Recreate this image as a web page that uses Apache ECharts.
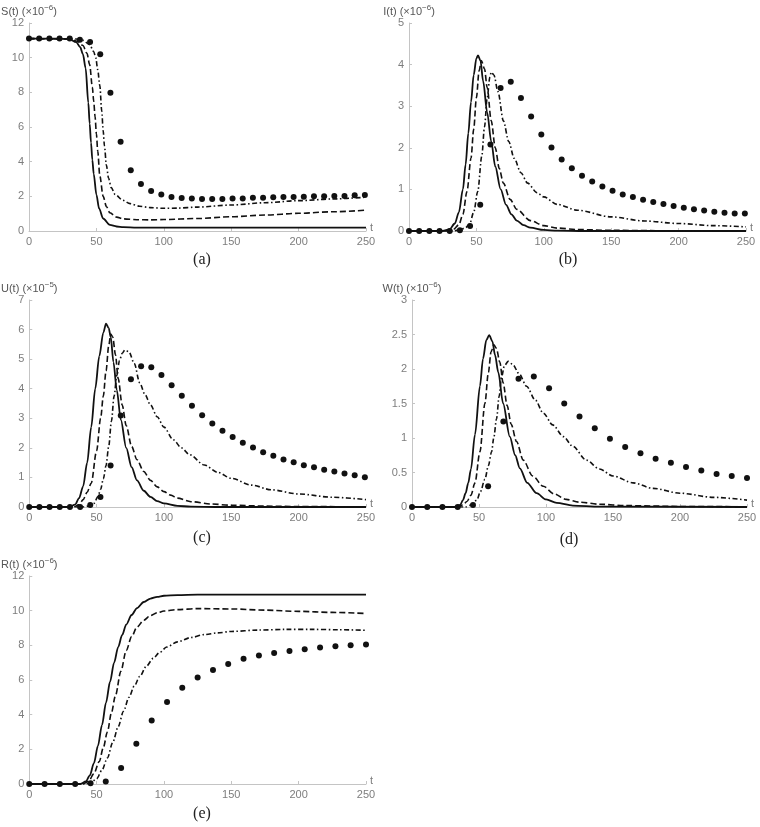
<!DOCTYPE html>
<html>
<head>
<meta charset="utf-8">
<script src="https://cdn.jsdelivr.net/npm/echarts@6/dist/echarts.min.js"></script>
<style>
html,body{margin:0;padding:0;background:#fff;}
#chart{width:760px;height:827px;}
</style>
</head>
<body>
<div id="chart"></div>
<script>
// ---------- Data ----------
var tDots1 = [0, 7.55, 15.1, 22.65, 30.2, 37.75, 45.3, 52.85, 60.4, 67.95, 75.5, 83.05, 90.6, 98.15, 105.7, 113.25, 120.8, 128.35, 135.9, 143.45, 151, 158.55, 166.1, 173.65, 181.2, 188.75, 196.3, 203.85, 211.4, 218.95, 226.5, 234.05, 241.6, 249.15];
var tDots2 = [0, 11.4, 22.7, 34.1, 45.5, 56.8, 68.2, 79.5, 90.9, 102.3, 113.6, 125, 136.4, 147.7, 159.1, 170.5, 181.8, 193.2, 204.5, 215.9, 227.3, 238.6, 250];
var xTicks = [0, 50, 100, 150, 200, 250];

// (a) S(t)
var S_solid = [[0,11.1],[20,11.1],[30,11.06],[35,10.9],[38,10.6],[40,10.2],[42,9.4],[44,7.4],[45,6.2],[46,5.1],[47,4.1],[48,3.3],[50,2.1],[52,1.3],[55,0.72],[60,0.35],[65,0.26],[70,0.22],[80,0.2],[100,0.19],[150,0.19],[250,0.19]];
var S_dash = [[0,11.1],[30,11.08],[36,10.95],[40,10.7],[43,10.25],[45,9.6],[47,8.3],[48,7.5],[49,6.6],[50,5.6],[51,4.6],[52.5,3.2],[55,2.0],[57.5,1.4],[60,1.05],[65,0.8],[70,0.7],[80,0.65],[90,0.64],[100,0.66],[125,0.72],[150,0.82],[175,0.92],[200,1.02],[225,1.11],[250,1.2]];
var S_dashdot = [[0,11.1],[35,11.08],[40,11.0],[45,10.75],[48,10.35],[49.5,10.0],[51,9.3],[52.5,8.4],[54,6.9],[55,5.8],[56,4.9],[57.4,3.8],[59,3.05],[61,2.5],[64,2.1],[69.6,1.77],[75,1.58],[82,1.43],[90,1.35],[100,1.31],[110,1.32],[125,1.38],[150,1.5],[175,1.63],[200,1.75],[225,1.85],[250,1.95]];
var S_dots = [11.1,11.1,11.1,11.1,11.1,11.04,10.9,10.2,7.98,5.15,3.5,2.71,2.31,2.1,1.96,1.9,1.88,1.85,1.85,1.85,1.87,1.88,1.92,1.92,1.94,1.96,1.96,1.98,2.0,2.0,2.02,2.02,2.06,2.08];

// (b) I(t)
var I_solid = [[0,0],[25,0],[30,0.04],[34,0.18],[37,0.45],[40,1.0],[42,1.6],[44,2.35],[46,3.1],[48,3.75],[50,4.15],[51.2,4.22],[53,4.1],[55,3.6],[58,2.85],[61,2.15],[64,1.55],[68,1.0],[72,0.63],[76,0.4],[80,0.25],[85,0.14],[90,0.08],[100,0.025],[110,0.008],[130,0],[250,0]];
var I_dash = [[0,0],[28,0],[33,0.04],[37,0.15],[40,0.4],[43,0.95],[46,1.75],[48,2.45],[50,3.2],[52,3.85],[53.7,4.1],[56,3.9],[58,3.45],[61,2.65],[64,2.0],[67,1.5],[70,1.15],[75,0.76],[80,0.52],[90,0.25],[100,0.13],[110,0.07],[125,0.035],[150,0.015],[200,0.005],[250,0.002]];
var I_dashdot = [[0,0],[33,0],[38,0.03],[42,0.08],[45,0.17],[48,0.45],[51,0.95],[54,1.8],[56,2.5],[58,3.2],[60,3.7],[61,3.82],[63,3.75],[66,3.35],[70,2.65],[74,2.15],[78,1.75],[83,1.4],[88,1.15],[95,0.92],[100,0.82],[110,0.64],[125,0.5],[150,0.34],[175,0.24],[200,0.18],[225,0.13],[250,0.1]];
var I_dots = [0,0,0,0,0,0.02,0.12,0.63,2.08,3.44,3.59,3.2,2.75,2.32,2.01,1.72,1.51,1.33,1.19,1.07,0.97,0.88,0.82,0.75,0.7,0.65,0.6,0.56,0.52,0.49,0.46,0.44,0.42,0.42];

// (c) U(t)
var U_solid = [[0,0],[30,0],[34,0.08],[37,0.3],[40,0.7],[43,1.5],[46,2.7],[49,4.0],[52,5.1],[55,5.9],[57,6.2],[59,6.05],[60.5,5.75],[62.5,4.9],[65,3.95],[68,2.95],[72,2.0],[76,1.35],[80,0.9],[85,0.55],[90,0.34],[95,0.2],[100,0.12],[110,0.04],[120,0.01],[140,0],[250,0]];
var U_dash = [[0,0],[33,0],[37,0.08],[40,0.25],[43,0.5],[46,0.8],[50,1.9],[53,3.0],[55,3.75],[57,4.6],[59,5.45],[60.5,5.85],[62,5.75],[64,5.15],[66,4.35],[69,3.45],[72,2.75],[76,2.05],[80,1.6],[85,1.2],[90,0.9],[95,0.68],[100,0.52],[105,0.4],[110,0.3],[120,0.18],[135,0.1],[150,0.06],[175,0.03],[200,0.015],[250,0.005]];
var U_dashdot = [[0,0],[40,0],[44,0.03],[48,0.12],[51,0.35],[53,0.6],[55,0.95],[57,1.4],[59,2.05],[61,2.9],[63,3.75],[65,4.45],[67,4.95],[69,5.2],[71,5.31],[74,5.25],[78,4.85],[82,4.2],[86,3.8],[90,3.45],[95,3.05],[100,2.7],[107,2.27],[113,2.0],[119,1.77],[130,1.42],[140,1.17],[150,0.97],[165,0.74],[180,0.58],[200,0.44],[225,0.33],[250,0.25]];
var U_dots = [0,0,0,0,0,0,0.07,0.34,1.4,3.09,4.32,4.76,4.73,4.46,4.12,3.76,3.42,3.1,2.82,2.58,2.37,2.17,2.01,1.85,1.73,1.61,1.51,1.41,1.34,1.26,1.2,1.13,1.07,1.01];

// (d) W(t)
var W_solid = [[0,0],[32,0],[36,0.03],[38,0.1],[40,0.2],[42,0.35],[44,0.55],[47,1.05],[50.7,1.75],[53,2.15],[55.5,2.42],[57.6,2.49],[60,2.4],[62,2.2],[64.4,1.95],[68,1.5],[73,1.02],[77,0.75],[80.5,0.56],[86,0.35],[93,0.2],[100,0.11],[108,0.06],[120,0.02],[140,0.005],[250,0]];
var W_dash = [[0,0],[34,0],[38,0.03],[41,0.08],[44,0.17],[47,0.35],[50.7,0.8],[54.4,1.5],[57,1.95],[59,2.25],[61.1,2.35],[63,2.3],[65.5,2.1],[68,1.8],[71,1.47],[74,1.2],[78,0.95],[83,0.68],[90,0.45],[98,0.3],[106,0.19],[115,0.11],[125,0.07],[140,0.04],[160,0.02],[200,0.008],[250,0.003]];
var W_dashdot = [[0,0],[40,0],[44,0.03],[48.4,0.1],[51,0.22],[54.4,0.4],[57,0.6],[59.4,0.8],[61,1.0],[63.1,1.28],[65,1.6],[66.8,1.88],[69,2.05],[71.8,2.11],[75,2.07],[80,1.93],[85.5,1.75],[92,1.55],[98,1.36],[105,1.19],[113,1.02],[120,0.88],[130,0.68],[140,0.55],[150,0.45],[165,0.35],[180,0.27],[200,0.2],[225,0.14],[250,0.1]];
var W_dots = [0,0,0,0,0.03,0.3,1.24,1.86,1.89,1.72,1.5,1.31,1.14,0.99,0.87,0.78,0.7,0.64,0.58,0.53,0.48,0.45,0.42];

// (e) R(t)
var R_solid = [[0,0],[38,0],[42,0.15],[45,0.5],[48,1.2],[51,2.2],[54,3.4],[57,4.7],[60,5.9],[63,7.0],[66,7.9],[69,8.6],[72,9.2],[76,9.75],[80,10.15],[85,10.5],[90,10.7],[95,10.8],[100,10.86],[110,10.9],[125,10.92],[250,10.92]];
var R_dash = [[0,0],[40,0],[44,0.15],[48,0.6],[52,1.3],[55,2.1],[58,3.0],[61,4.1],[64,5.1],[68,6.5],[72,7.7],[76,8.5],[80,9.05],[85,9.45],[90,9.72],[95,9.88],[100,9.98],[110,10.06],[125,10.12],[150,10.1],[175,10.03],[200,9.96],[225,9.9],[250,9.84]];
var R_dashdot = [[0,0],[42,0],[46,0.1],[50,0.3],[54,0.8],[58,1.5],[62,2.4],[66,3.3],[70,4.2],[74,5.0],[78,5.65],[82,6.2],[87,6.8],[92,7.25],[97,7.6],[102,7.9],[110,8.2],[120,8.45],[130,8.62],[140,8.72],[150,8.8],[170,8.88],[190,8.92],[210,8.92],[230,8.9],[250,8.87]];
var R_dots = [0,0,0,0,0.04,0.15,0.93,2.32,3.67,4.73,5.56,6.15,6.58,6.93,7.22,7.41,7.56,7.68,7.78,7.87,7.95,8.0,8.05];

// ---------- Panels ----------
var panels = [
  {name:'S(t) (×10', exp:'−6', ymax:12, yint:2, solid:S_solid, dash:S_dash, dashdot:S_dashdot, tDots:tDots1, dots:S_dots, cap:'(a)'},
  {name:'I(t) (×10', exp:'−6', ymax:5, yint:1, solid:I_solid, dash:I_dash, dashdot:I_dashdot, tDots:tDots1, dots:I_dots, cap:'(b)'},
  {name:'U(t) (×10', exp:'−5', ymax:7, yint:1, solid:U_solid, dash:U_dash, dashdot:U_dashdot, tDots:tDots1, dots:U_dots, cap:'(c)'},
  {name:'W(t) (×10', exp:'−6', ymax:3, yint:0.5, solid:W_solid, dash:W_dash, dashdot:W_dashdot, tDots:tDots2, dots:W_dots, cap:'(d)'},
  {name:'R(t) (×10', exp:'−6', ymax:12, yint:2, solid:R_solid, dash:R_dash, dashdot:R_dashdot, tDots:tDots2, dots:R_dots, cap:'(e)'}
];
var layout = [
  {left:29, top:23, width:337, height:208, capX:197, capY:257},
  {left:409, top:23, width:337, height:208, capX:563, capY:257},
  {left:29, top:300, width:337, height:207, capX:197, capY:535},
  {left:412, top:300, width:335, height:207, capX:564, capY:537},
  {left:29, top:576, width:337, height:208, capX:197, capY:811}
];

var axisGray = '#c4c4c4';
var labelGray = '#7d7d7d';
var sansFont = 'Liberation Sans, Arial, sans-serif';

var grids = [], xAxes = [], yAxes = [], series = [], titles = [];
panels.forEach(function(p, i){
  var L = layout[i];
  grids.push({left:L.left, top:L.top, width:L.width, height:L.height, containLabel:false});
  xAxes.push({
    type:'value', gridIndex:i, min:0, max:250, interval:50,
    name:'t', nameLocation:'end', nameGap:4,
    nameTextStyle:{color:labelGray, fontSize:11, fontFamily:sansFont, verticalAlign:'bottom', padding:[0,0,-2,0]},
    axisLine:{show:true, lineStyle:{color:axisGray, width:1}},
    axisTick:{show:true, inside:true, length:3, lineStyle:{color:axisGray}},
    axisLabel:{color:labelGray, fontSize:11, fontFamily:sansFont, margin:5, showMinLabel:true, showMaxLabel:true},
    splitLine:{show:false}
  });
  yAxes.push({
    type:'value', gridIndex:i, min:0, max:p.ymax, interval:p.yint,
    name:'{b|' + p.name + '}{s|' + p.exp + '}{b|)}', nameLocation:'end', nameGap:4,
    nameTextStyle:{
      color:labelGray, fontFamily:sansFont, align:'center',
      rich:{
        b:{fontSize:11, color:'#555', fontFamily:sansFont},
        s:{fontSize:8, color:'#555', fontFamily:sansFont, padding:[0,0,7,0]}
      }
    },
    axisLine:{show:true, lineStyle:{color:axisGray, width:1}},
    axisTick:{show:true, inside:true, length:3, lineStyle:{color:axisGray}},
    axisLabel:{color:labelGray, fontSize:11, fontFamily:sansFont, margin:5},
    splitLine:{show:false}
  });
  var common = {type:'line', xAxisIndex:i, yAxisIndex:i, showSymbol:false, smooth:0.3, smoothMonotone:'x', animation:false, silent:true};
  series.push(Object.assign({}, common, {name:'solid'+i, data:p.solid, lineStyle:{color:'#111', width:1.8, type:'solid'}, z:3}));
  series.push(Object.assign({}, common, {name:'dash'+i, data:p.dash, lineStyle:{color:'#111', width:1.6, type:[6,3]}, z:3}));
  series.push(Object.assign({}, common, {name:'dashdot'+i, data:p.dashdot, lineStyle:{color:'#111', width:1.6, type:[5,2.5,1.5,2.5]}, z:3}));
  series.push({
    type:'scatter', name:'dots'+i, xAxisIndex:i, yAxisIndex:i, symbol:'circle', symbolSize:6,
    itemStyle:{color:'#111', opacity:1}, animation:false, silent:true, z:4,
    data:p.tDots.map(function(t, k){ return [t, p.dots[k]]; })
  });
  titles.push({text:p.cap, left:L.capX, top:L.capY - 10, textAlign:'center',
    textStyle:{fontFamily:'Liberation Serif, DejaVu Serif, serif', fontSize:16, fontWeight:'normal', color:'#222'}});
});

var chart = echarts.init(document.getElementById('chart'), null, {renderer:'canvas'});
chart.setOption({
  backgroundColor:'#ffffff',
  animation:false,
  title:titles,
  grid:grids,
  xAxis:xAxes,
  yAxis:yAxes,
  series:series
});
</script>
</body>
</html>
